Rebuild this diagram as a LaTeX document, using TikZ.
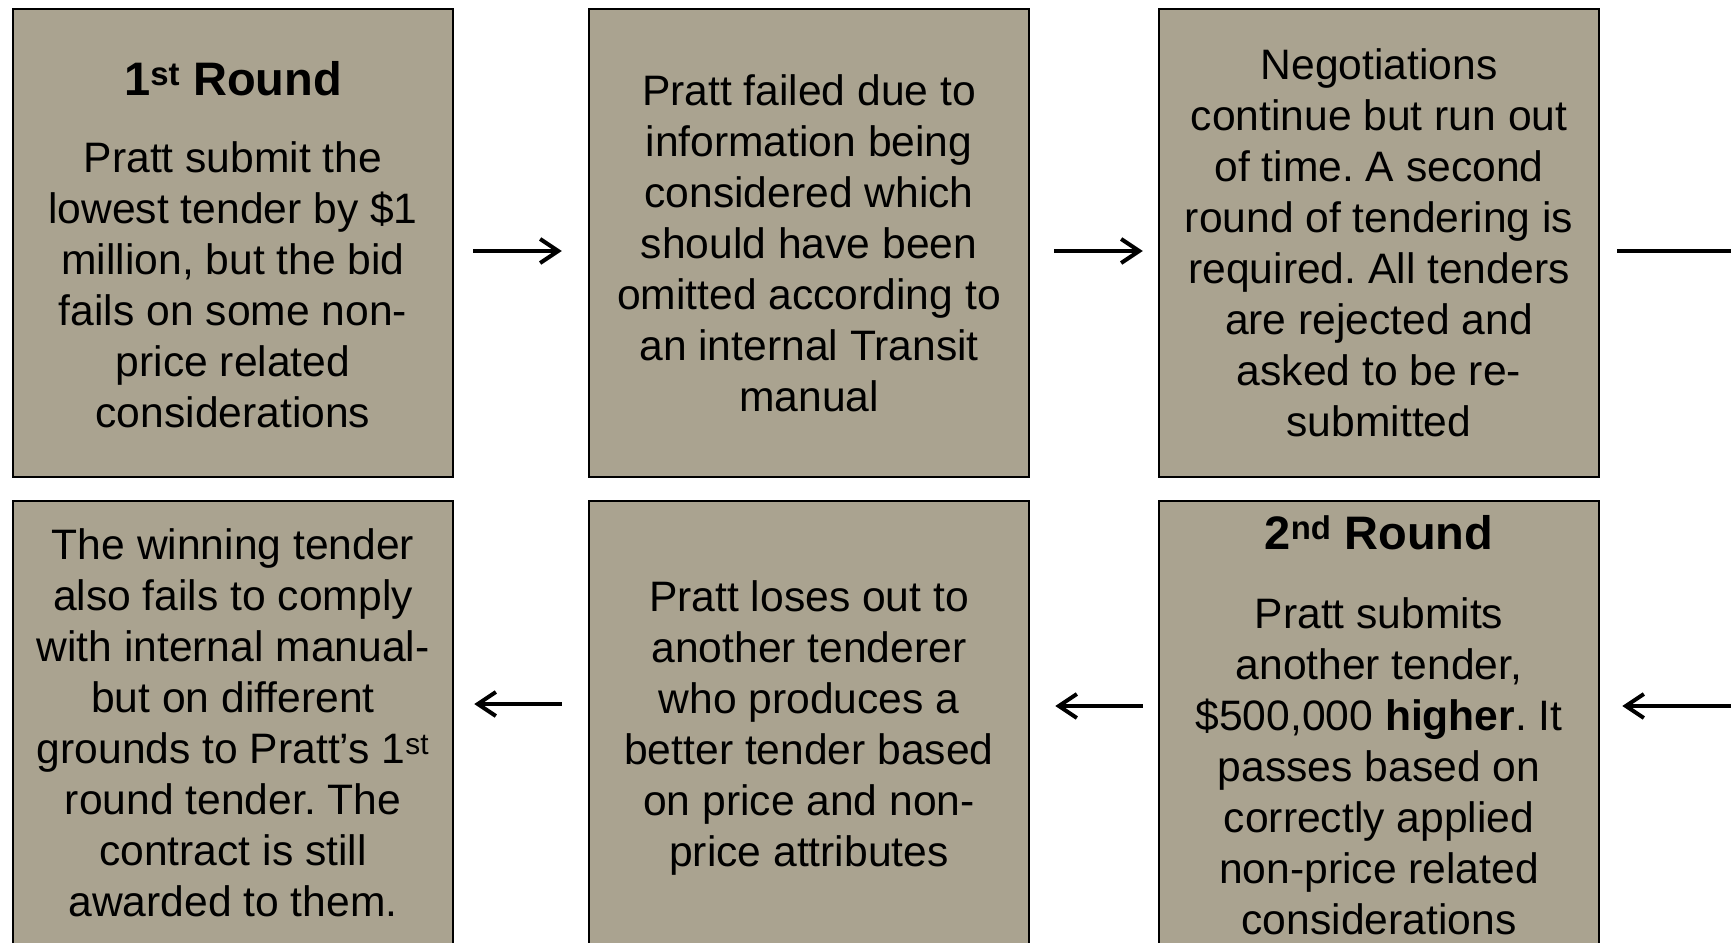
\documentclass[tikz,border=0pt]{standalone}
\usepackage{fontspec}
\setmainfont{Liberation Sans}
\usetikzlibrary{arrows.meta}
\definecolor{boxfill}{RGB}{170,163,144}
\newcommand\fstrut{\rule{0pt}{34pt}}
\frenchspacing
\begin{document}
\begin{tikzpicture}[x=1pt,y=-1pt,
  box/.style={draw=black, line width=2.5pt, fill=boxfill, minimum width=440pt, minimum height=468pt, inner sep=0pt, anchor=center},
  body/.style={align=center, inner sep=0pt, anchor=north, font=\fontsize{42.6}{51}\selectfont},
  titletext/.style={inner sep=0pt, anchor=base, font=\fontsize{47}{56}\selectfont\bfseries},
  flow/.style={line width=4pt, -{Straight Barb[length=18pt,width=24pt]}},
  plainflow/.style={line width=4pt}]
\useasboundingbox (0,0) rectangle (1731,942);
\clip (0,0) rectangle (1731,942);
\fill[white] (0,0) rectangle (1731,942);
% boxes
\node[box] (b1) at (233,243) {};
\node[box] (b2) at (809,243) {};
\node[box] (b3) at (1379,243) {};
\node[box] (b4) at (233,735) {};
\node[box] (b5) at (809,735) {};
\node[box] (b6) at (1379,735) {};
% texts
\node[titletext] (h1) at (233,95) {1\textsuperscript{st} Round};
\node[body] (t1) at (233,138) {\fstrut Pratt submit the\\lowest tender by \$1\\million, but the bid\\fails on some non-\\price related\\considerations};
\node[body] (t2) at (809,71) {\fstrut Pratt failed due to\\information being\\considered which\\should have been\\omitted according to\\an internal Transit\\manual};
\node[body] (t3) at (1379,45) {\fstrut Negotiations\\continue but run out\\of time. A second\\round of tendering is\\required. All tenders\\are rejected and\\asked to be re-\\submitted};
\node[body] (t4) at (233,525) {\fstrut The winning tender\\also fails to comply\\with internal manual-\\but on different\\grounds to Pratt’s 1\textsuperscript{st}\\round tender. The\\contract is still\\awarded to them.};
\node[body] (t5) at (809,577) {\fstrut Pratt loses out to\\another tenderer\\who produces a\\better tender based\\on price and non-\\price attributes};
\node[titletext] (h6) at (1379,549) {2\textsuperscript{nd} Round};
\node[body] (t6) at (1379,594) {\fstrut Pratt submits\\another tender,\\\$500,000 \textbf{higher}. It\\passes based on\\correctly applied\\non-price related\\considerations};
% free ends
\coordinate (e1) at (1745,251);
\coordinate (e2) at (1745,706);
% connectors
\draw[flow, shorten <=19pt, shorten >=26pt] ([yshift=-8pt]b1.east) -- ([yshift=-8pt]b2.west);
\draw[flow, shorten <=24pt, shorten >=15pt] ([yshift=-8pt]b2.east) -- ([yshift=-8pt]b3.west);
\draw[plainflow, shorten <=17pt] ([yshift=-8pt]b3.east) -- (e1);
\draw[flow, shorten >=22pt] (e2) -- ([yshift=29pt]b6.east);
\draw[flow, shorten <=15pt, shorten >=25pt] ([yshift=29pt]b6.west) -- ([yshift=29pt]b5.east);
\draw[flow, shorten <=26pt, shorten >=20pt] ([yshift=31pt]b5.west) -- ([yshift=31pt]b4.east);
\end{tikzpicture}
\end{document}
